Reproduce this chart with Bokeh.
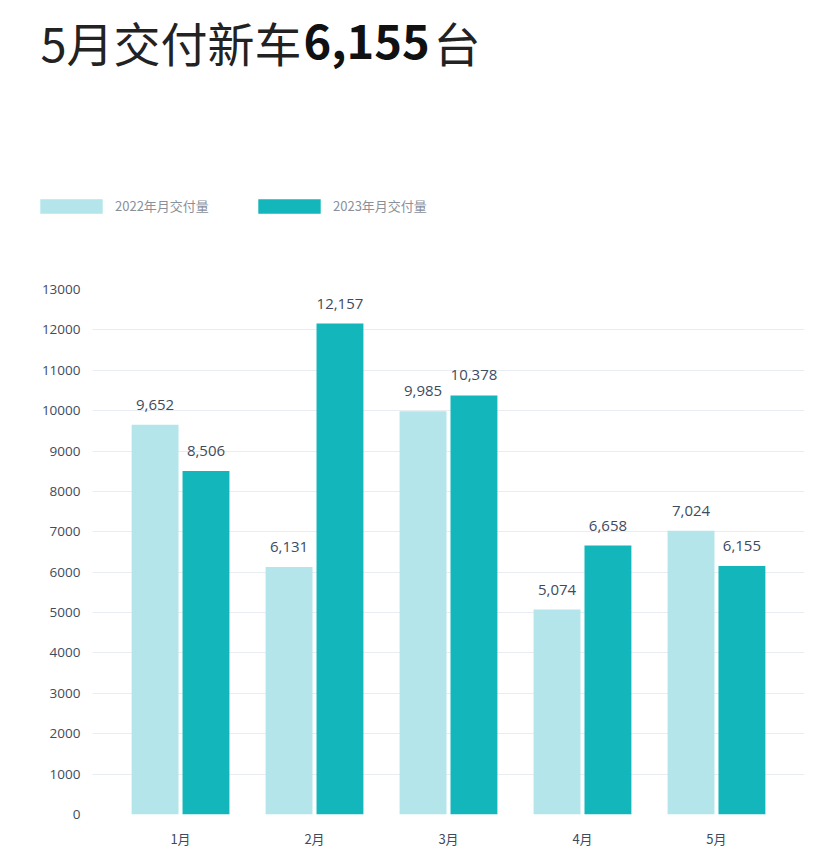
from bokeh.plotting import figure
from bokeh.layouts import column
from bokeh.models import ColumnDataSource, FactorRange, Range1d, Legend, LegendItem, Label, FixedTicker
from bokeh.transform import dodge
from bokeh.core.properties import value
from bokeh.embed import file_html
from bokeh.resources import INLINE

months = ["1月", "2月", "3月", "4月", "5月"]
deliv_2022 = [9652, 6131, 9985, 5074, 7024]
deliv_2023 = [8506, 12157, 10378, 6658, 6155]
series_names = ["2022年月交付量", "2023年月交付量"]
y_ticks = list(range(0, 13001, 1000))
title_parts = ["5月交付新车", "6,155", "台"]

C_LIGHT = "#b3e5ea"
C_DARK = "#13b6ba"
TXT = "#3e4b5e"
W = 818
HEAD_H = 250

# ---------- header: title + legend ----------
head = figure(width=W, height=HEAD_H, x_range=Range1d(0, W), y_range=Range1d(0, HEAD_H),
              output_backend="svg", toolbar_location=None, frame_align=False,
              min_border=0, min_border_left=0, min_border_right=0,
              min_border_top=0, min_border_bottom=0)
head.axis.visible = False
head.grid.visible = False
head.outline_line_color = None
head.background_fill_color = "white"
head.border_fill_color = "white"

# zero-height proxy bars: only used to give the legend its swatches
k22 = head.vbar(x=[0], top=[0], width=0, fill_color=C_LIGHT, line_color=None)
k23 = head.vbar(x=[0], top=[0], width=0, fill_color=C_DARK, line_color=None)
legend = Legend(
    items=[LegendItem(label=series_names[0], renderers=[k22]),
           LegendItem(label=series_names[1], renderers=[k23])],
    orientation="horizontal", location=(32, HEAD_H - 215),
    glyph_width=78, glyph_height=18, label_standoff=5, label_width=122, spacing=13,
    padding=0, margin=0, border_line_color=None, background_fill_alpha=0,
    label_text_font="Noto Sans CJK SC", label_text_font_size="13px",
    label_text_color="#8a909a", label_height=18,
)
head.add_layout(legend, "center")

tf = "Noto Sans CJK SC"
mid_y = HEAD_H - 41
head.add_layout(Label(x=40, y=mid_y, text=title_parts[0], text_font=tf,
                      text_font_size="47px", text_color="#222222", text_baseline="middle"))
head.add_layout(Label(x=303, y=mid_y, text=title_parts[1], text_font=tf, text_font_style="bold",
                      text_font_size="47px", text_color="#111111", text_baseline="middle"))
head.add_layout(Label(x=433, y=mid_y, text=title_parts[2], text_font=tf,
                      text_font_size="47px", text_color="#222222", text_baseline="middle"))

# ---------- chart ----------
src = ColumnDataSource(dict(
    month=months,
    v22=deliv_2022,
    v23=deliv_2023,
    l22=[f"{v:,}" for v in deliv_2022],
    l23=[f"{v:,}" for v in deliv_2023],
))

p = figure(
    width=W, height=600,
    x_range=FactorRange(*months, range_padding=0.157, range_padding_units="absolute"),
    y_range=Range1d(0, 13000),
    output_backend="svg", toolbar_location=None, frame_align=False,
    min_border_left=92, min_border_right=14, min_border_top=289 - HEAD_H, min_border_bottom=35,
)
p.outline_line_color = None
p.background_fill_color = "white"
p.border_fill_color = "white"

off = 0.19
w = 0.35
p.vbar(x=dodge("month", -off, range=p.x_range), top="v22", width=w, source=src,
       fill_color=C_LIGHT, line_color=None)
p.vbar(x=dodge("month", off, range=p.x_range), top="v23", width=w, source=src,
       fill_color=C_DARK, line_color=None)

for col, lab, d in (("v22", "l22", -off), ("v23", "l23", off)):
    p.text(x=dodge("month", d, range=p.x_range), y=col, text=lab, source=src,
           text_align="center", text_baseline="middle", y_offset=-20,
           text_font=value("Open Sans"), text_font_size="15px", text_color=TXT)

p.yaxis.ticker = FixedTicker(ticks=y_ticks)
p.yaxis.axis_line_color = None
p.yaxis.major_tick_line_color = None
p.yaxis.major_tick_out = 0
p.yaxis.minor_tick_line_color = None
p.yaxis.minor_tick_out = 0
p.yaxis.major_label_text_font = "Open Sans"
p.yaxis.major_label_text_font_size = "13.5px"
p.yaxis.major_label_text_color = TXT
p.yaxis.major_label_standoff = 12

p.xaxis.axis_line_color = None
p.xaxis.major_tick_line_color = None
p.xaxis.major_tick_out = 0
p.xaxis.minor_tick_line_color = None
p.xaxis.minor_tick_out = 0
p.xaxis.major_label_text_font = "Noto Sans CJK SC"
p.xaxis.major_label_text_font_size = "13px"
p.xaxis.major_label_text_color = TXT
p.xaxis.major_label_standoff = 14

p.xgrid.grid_line_color = None
p.ygrid.ticker = FixedTicker(ticks=y_ticks)
p.ygrid.grid_line_color = "#e9edf1"

layout = column(head, p, spacing=0)
open("out.html", "w").write(file_html(layout, INLINE))
